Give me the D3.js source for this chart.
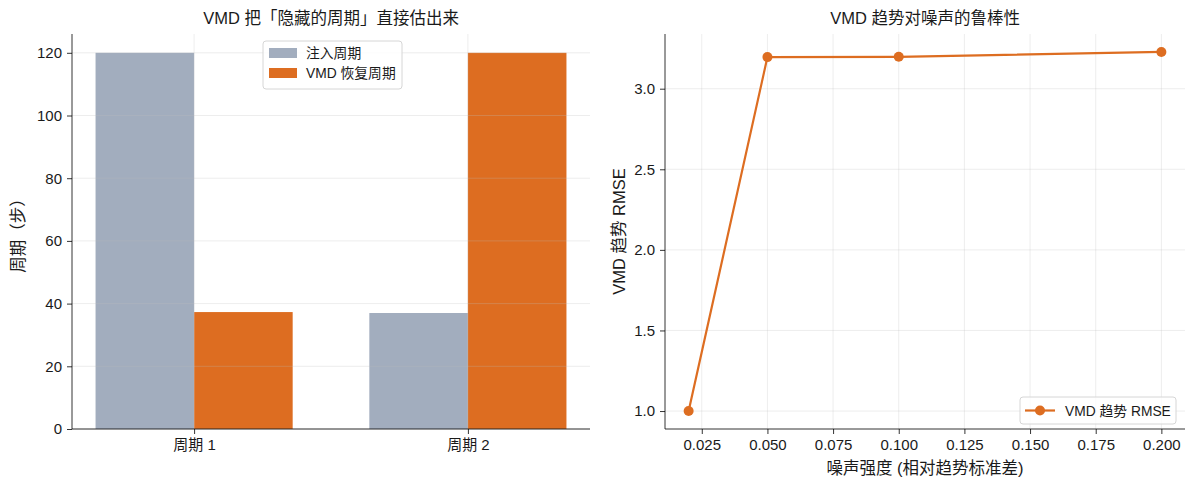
<!DOCTYPE html>
<html>
<head>
<meta charset="utf-8">
<script src="https://cdn.jsdelivr.net/npm/d3@7"></script>
<style>
  body { margin: 0; background: #fff; }
  svg text { font-family: "Liberation Sans", "Noto Sans CJK SC", sans-serif; fill: #1a1a1a; }
</style>
</head>
<body>
<svg id="chart" width="1194" height="491"></svg>
<script>
// left panel: injected vs recovered period
const periodCats = ['周期 1', '周期 2']
const seriesNames = ['注入周期', 'VMD 恢复周期']
const injected = [120, 37]
const recovered = [37.3, 120]
const leftYTicks = [0, 20, 40, 60, 80, 100, 120]

// right panel: trend RMSE vs noise level
const noiseLevels = [0.02, 0.05, 0.1, 0.2]
const trendRmse = [1.0, 3.196, 3.198, 3.228]
const rightXTicks = [0.025, 0.05, 0.075, 0.1, 0.125, 0.15, 0.175, 0.2]
const rightYTicks = [1.0, 1.5, 2.0, 2.5, 3.0]

const gray = '#a2adbe'
const orange = '#dd6d21'
const gridColor = 'rgba(190,190,190,0.35)'
const tickFont = 15, labelFont = 16.5, legendFont = 13.8

const svg = d3.select('#chart')
const plotTop = 34, plotBottom = 429

function styleAxis (a) {
  a.select('.domain').remove()
  a.selectAll('text').attr('font-size', tickFont).attr('fill', '#1a1a1a')
  a.selectAll('line').attr('stroke', '#000').attr('stroke-width', 0.8)
}

function spines (g, x0, x1) {
  g.append('line').attr('x1', x0).attr('x2', x0).attr('y1', plotTop).attr('y2', plotBottom).attr('stroke', '#000').attr('stroke-width', 0.8)
  g.append('line').attr('x1', x0).attr('x2', x1).attr('y1', plotBottom).attr('y2', plotBottom).attr('stroke', '#000').attr('stroke-width', 0.8)
}

// ---------- left ----------
{
  const x0 = 72, x1 = 590
  const bw = 0.36
  const x = d3.scaleLinear().domain([-bw - 0.086, 1 + bw + 0.086]).range([x0, x1])
  const y = d3.scaleLinear().domain([0, 126]).range([plotBottom, plotTop])
  const g = svg.append('g')

  const rows = periodCats.map((c, i) => ({ i, c, a: injected[i], b: recovered[i] }))
  g.selectAll('rect.a').data(rows).join('rect')
    .attr('x', d => x(d.i - bw)).attr('width', d => x(d.i) - x(d.i - bw))
    .attr('y', d => y(d.a)).attr('height', d => y(0) - y(d.a))
    .attr('fill', gray)
  g.selectAll('rect.b').data(rows).join('rect')
    .attr('x', d => x(d.i)).attr('width', d => x(d.i + bw) - x(d.i))
    .attr('y', d => y(d.b)).attr('height', d => y(0) - y(d.b))
    .attr('fill', orange)

  // grid on top, faint
  g.selectAll('line.gy').data(leftYTicks).join('line')
    .attr('x1', x0).attr('x2', x1).attr('y1', d => y(d)).attr('y2', d => y(d))
    .attr('stroke', gridColor).attr('stroke-width', 0.8)
  g.selectAll('line.gx').data(periodCats).join('line')
    .attr('x1', (d, i) => x(i)).attr('x2', (d, i) => x(i)).attr('y1', plotTop).attr('y2', plotBottom)
    .attr('stroke', gridColor).attr('stroke-width', 0.8)

  styleAxis(g.append('g').attr('transform', `translate(${x0},0)`)
    .call(d3.axisLeft(y).tickValues(leftYTicks).tickSize(5).tickPadding(5)))
  styleAxis(g.append('g').attr('transform', `translate(0,${plotBottom})`)
    .call(d3.axisBottom(x).tickValues([0, 1]).tickFormat((d, i) => periodCats[i]).tickSize(5).tickPadding(5)))
  spines(g, x0, x1)

  g.append('text').attr('x', (x0 + x1) / 2).attr('y', 24).attr('text-anchor', 'middle')
    .attr('font-size', labelFont).text('VMD 把「隐藏的周期」直接估出来')
  g.append('text').attr('transform', `translate(24,${(plotTop + plotBottom) / 2}) rotate(-90)`)
    .attr('text-anchor', 'middle').attr('font-size', labelFont).text('周期（步）')

  // legend
  const lg = g.append('g').attr('transform', 'translate(263,41)')
  lg.append('rect').attr('width', 139).attr('height', 48).attr('rx', 3)
    .attr('fill', 'rgba(255,255,255,0.8)').attr('stroke', '#d6d6d6')
  seriesNames.forEach((s, i) => {
    lg.append('rect').attr('x', 6).attr('y', 7 + i * 20).attr('width', 28).attr('height', 10)
      .attr('fill', i ? orange : gray)
    lg.append('text').attr('x', 43).attr('y', 17 + i * 20).attr('font-size', legendFont).text(s)
  })
}

// ---------- right ----------
{
  const x0 = 665, x1 = 1185
  const x = d3.scaleLinear().domain([0.011, 0.209]).range([x0, x1])
  const y = d3.scaleLinear().domain([0.8886, 3.3394]).range([plotBottom, plotTop])
  const g = svg.append('g')

  g.selectAll('line.gy').data(rightYTicks).join('line')
    .attr('x1', x0).attr('x2', x1).attr('y1', d => y(d)).attr('y2', d => y(d))
    .attr('stroke', gridColor).attr('stroke-width', 0.8)
  g.selectAll('line.gx').data(rightXTicks).join('line')
    .attr('x1', d => x(d)).attr('x2', d => x(d)).attr('y1', plotTop).attr('y2', plotBottom)
    .attr('stroke', gridColor).attr('stroke-width', 0.8)

  const pts = noiseLevels.map((n, i) => [n, trendRmse[i]])
  g.append('path').datum(pts)
    .attr('d', d3.line().x(d => x(d[0])).y(d => y(d[1])))
    .attr('fill', 'none').attr('stroke', orange).attr('stroke-width', 2.2).attr('stroke-linejoin', 'round')
  g.selectAll('circle').data(pts).join('circle')
    .attr('cx', d => x(d[0])).attr('cy', d => y(d[1])).attr('r', 5).attr('fill', orange)

  styleAxis(g.append('g').attr('transform', `translate(${x0},0)`)
    .call(d3.axisLeft(y).tickValues(rightYTicks).tickFormat(d3.format('.1f')).tickSize(5).tickPadding(5)))
  styleAxis(g.append('g').attr('transform', `translate(0,${plotBottom})`)
    .call(d3.axisBottom(x).tickValues(rightXTicks).tickFormat(d3.format('.3f')).tickSize(5).tickPadding(5)))
  spines(g, x0, x1)

  g.append('text').attr('x', (x0 + x1) / 2).attr('y', 24).attr('text-anchor', 'middle')
    .attr('font-size', labelFont).text('VMD 趋势对噪声的鲁棒性')
  g.append('text').attr('transform', `translate(625,${(plotTop + plotBottom) / 2}) rotate(-90)`)
    .attr('text-anchor', 'middle').attr('font-size', labelFont).text('VMD 趋势 RMSE')
  g.append('text').attr('x', (x0 + x1) / 2).attr('y', 474).attr('text-anchor', 'middle')
    .attr('font-size', labelFont).text('噪声强度 (相对趋势标准差)')

  const lg = g.append('g').attr('transform', 'translate(1020,397)')
  lg.append('rect').attr('width', 156).attr('height', 27).attr('rx', 3)
    .attr('fill', 'rgba(255,255,255,0.8)').attr('stroke', '#d6d6d6')
  lg.append('line').attr('x1', 5).attr('x2', 35).attr('y1', 13.5).attr('y2', 13.5)
    .attr('stroke', orange).attr('stroke-width', 2.2)
  lg.append('circle').attr('cx', 20).attr('cy', 13.5).attr('r', 5).attr('fill', orange)
  lg.append('text').attr('x', 45).attr('y', 18.5).attr('font-size', legendFont).text('VMD 趋势 RMSE')
}
</script>
</body>
</html>
